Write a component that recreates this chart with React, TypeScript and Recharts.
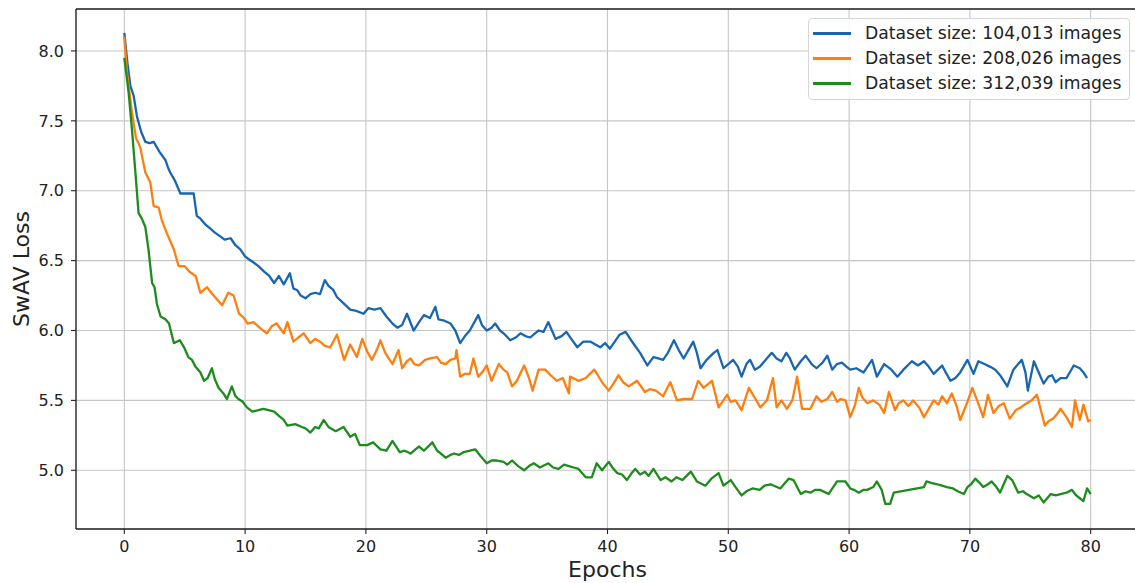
import React from 'react';
import { LineChart, Line, XAxis, YAxis, CartesianGrid, Legend, ReferenceLine } from 'recharts';

const xTicks = [0, 10, 20, 30, 40, 50, 60, 70, 80];
const yTicks = [5.0, 5.5, 6.0, 6.5, 7.0, 7.5, 8.0];
const X_DOMAIN: [number, number] = [-4, 84];
const Y_DOMAIN: [number, number] = [4.58, 8.3];

const seriesNames = [
  'Dataset size: 104,013 images',
  'Dataset size: 208,026 images',
  'Dataset size: 312,039 images',
];
const seriesColors = ['#1866b0', '#ff7f0e', '#1d8c1d'];

const epochs104k = [0, 0.25, 0.5, 0.77, 1.05, 1.4, 1.74, 2.1, 2.43, 2.9, 3.4, 3.6, 3.8, 4.2, 4.64, 5.0, 5.74, 6.0, 6.3, 6.7, 7.1, 7.5, 8.0, 8.3, 8.8, 9.2, 9.6, 10.0, 10.3, 10.65, 11.1, 11.6, 12.0, 12.4, 12.8, 13.2, 13.7, 14.0, 14.3, 14.6, 15.0, 15.4, 15.8, 16.2, 16.6, 16.9, 17.3, 17.6, 18.2, 18.7, 19.2, 19.8, 20.2, 20.7, 21.2, 21.7, 22.2, 22.6, 23.0, 23.4, 23.95, 24.4, 24.8, 25.3, 25.75, 26.0, 26.5, 27.0, 27.4, 27.8, 28.2, 28.6, 29.3, 29.6, 30.0, 30.4, 30.7, 31.1, 31.4, 31.95, 32.4, 32.8, 33.2, 33.6, 34.0, 34.3, 34.7, 35.1, 35.4, 35.7, 36.2, 36.6, 37.0, 37.5, 38.0, 38.6, 39.0, 39.4, 39.8, 40.2, 40.6, 41.0, 41.5, 41.8, 42.2, 42.7, 43.3, 43.8, 44.2, 44.6, 45.0, 45.5, 45.9, 46.3, 46.7, 47.1, 47.4, 47.7, 48.2, 48.8, 49.1, 49.6, 50.0, 50.4, 50.8, 51.1, 51.5, 51.8, 52.2, 52.6, 53.1, 53.6, 54.0, 54.4, 54.8, 55.1, 55.5, 56.0, 56.4, 56.9, 57.3, 57.8, 58.2, 58.6, 59.0, 59.4, 59.8, 60.1, 60.6, 61.2, 61.9, 62.3, 62.9, 63.5, 64.0, 64.5, 65.2, 65.7, 66.2, 66.6, 67.0, 67.7, 68.0, 68.4, 68.8, 69.2, 69.8, 70.3, 70.7, 71.2, 71.7, 72.1, 72.5, 73.1, 73.6, 74.0, 74.3, 74.6, 74.8, 75.3, 75.7, 76.1, 76.5, 76.8, 77.1, 77.5, 78.0, 78.6, 79.1, 79.4, 79.7];
const loss104k = [8.13, 7.92, 7.75, 7.68, 7.53, 7.42, 7.35, 7.34, 7.35, 7.28, 7.22, 7.17, 7.13, 7.07, 6.98, 6.98, 6.98, 6.82, 6.8, 6.76, 6.73, 6.7, 6.67, 6.65, 6.66, 6.61, 6.58, 6.53, 6.51, 6.49, 6.46, 6.42, 6.39, 6.34, 6.39, 6.33, 6.41, 6.3, 6.29, 6.25, 6.23, 6.26, 6.27, 6.26, 6.36, 6.32, 6.29, 6.24, 6.19, 6.15, 6.14, 6.12, 6.16, 6.15, 6.16, 6.1, 6.05, 6.02, 6.04, 6.12, 6.0, 6.06, 6.11, 6.09, 6.17, 6.08, 6.07, 6.05, 6.0, 5.91, 5.96, 6.0, 6.11, 6.04, 6.0, 6.02, 6.05, 6.0, 5.98, 5.93, 5.95, 5.98, 5.96, 5.95, 5.98, 6.0, 5.99, 6.06, 6.0, 5.94, 5.96, 5.99, 5.94, 5.88, 5.92, 5.92, 5.9, 5.88, 5.91, 5.87, 5.92, 5.97, 5.99, 5.95, 5.9, 5.84, 5.75, 5.81, 5.8, 5.79, 5.84, 5.93, 5.86, 5.8, 5.86, 5.92, 5.84, 5.73, 5.79, 5.84, 5.86, 5.73, 5.76, 5.79, 5.74, 5.67, 5.76, 5.79, 5.72, 5.74, 5.79, 5.84, 5.8, 5.78, 5.84, 5.8, 5.72, 5.78, 5.82, 5.76, 5.73, 5.77, 5.82, 5.72, 5.76, 5.77, 5.74, 5.72, 5.73, 5.7, 5.79, 5.67, 5.76, 5.72, 5.67, 5.72, 5.78, 5.75, 5.78, 5.74, 5.69, 5.75, 5.7, 5.64, 5.66, 5.7, 5.79, 5.69, 5.78, 5.76, 5.74, 5.72, 5.68, 5.6, 5.72, 5.76, 5.79, 5.7, 5.57, 5.78, 5.7, 5.62, 5.67, 5.68, 5.63, 5.66, 5.66, 5.75, 5.73, 5.7, 5.66];

const epochs208k = [0, 0.22, 0.63, 0.96, 1.32, 1.74, 2.15, 2.43, 2.84, 3.1, 3.5, 3.8, 4.1, 4.5, 5.0, 5.4, 5.9, 6.3, 6.85, 7.2, 7.5, 8.1, 8.6, 9.05, 9.5, 9.9, 10.2, 10.7, 11.2, 11.8, 12.2, 12.6, 13.2, 13.5, 14.0, 14.4, 14.85, 15.4, 15.8, 16.2, 16.6, 17.05, 17.6, 18.2, 18.7, 19.25, 19.7, 20.1, 20.5, 20.9, 21.2, 21.6, 22.2, 22.7, 23.0, 23.4, 23.7, 24.0, 24.4, 24.9, 25.3, 25.9, 26.2, 26.6, 27.0, 27.4, 27.5, 27.8, 28.2, 28.6, 28.9, 29.3, 29.7, 30.0, 30.4, 31.0, 31.4, 31.7, 32.1, 32.5, 33.1, 33.5, 33.8, 34.3, 34.85, 35.3, 35.8, 36.3, 36.8, 36.9, 37.6, 38.2, 38.9, 39.2, 39.55, 40.1, 40.5, 40.9, 41.3, 41.75, 42.45, 43.1, 43.5, 44.0, 44.6, 45.2, 45.75, 46.3, 47.0, 47.5, 47.95, 48.65, 49.2, 49.9, 50.2, 50.6, 51.1, 51.7, 52.25, 52.65, 53.2, 53.7, 54.0, 54.4, 54.85, 55.3, 55.7, 56.1, 56.8, 57.3, 57.7, 58.2, 58.6, 59.0, 59.3, 59.7, 60.1, 60.5, 60.8, 61.1, 61.5, 62.0, 62.5, 62.9, 63.3, 63.8, 64.1, 64.5, 64.9, 65.3, 65.8, 66.2, 66.6, 67.0, 67.4, 67.7, 68.1, 68.5, 68.9, 69.2, 69.8, 70.2, 70.6, 71.1, 71.5, 71.95, 72.4, 72.8, 73.3, 73.8, 74.2, 74.7, 75.1, 75.55, 76.2, 76.5, 76.9, 77.2, 77.5, 78.0, 78.45, 78.7, 79.1, 79.4, 79.8, 80.0];
const loss208k = [8.1, 7.85, 7.56, 7.38, 7.31, 7.13, 7.06, 6.89, 6.88, 6.79, 6.7, 6.64, 6.58, 6.46, 6.46, 6.42, 6.39, 6.27, 6.31, 6.27, 6.24, 6.18, 6.27, 6.25, 6.12, 6.09, 6.05, 6.06, 6.02, 5.98, 6.03, 6.05, 5.98, 6.06, 5.92, 5.95, 5.98, 5.91, 5.94, 5.92, 5.89, 5.88, 5.97, 5.79, 5.9, 5.81, 5.94, 5.85, 5.79, 5.86, 5.93, 5.84, 5.76, 5.86, 5.73, 5.78, 5.8, 5.76, 5.75, 5.79, 5.8, 5.81, 5.77, 5.76, 5.79, 5.8, 5.86, 5.67, 5.69, 5.69, 5.8, 5.67, 5.71, 5.75, 5.64, 5.76, 5.72, 5.7, 5.6, 5.64, 5.75, 5.66, 5.57, 5.72, 5.72, 5.68, 5.64, 5.66, 5.55, 5.67, 5.64, 5.66, 5.72, 5.68, 5.63, 5.57, 5.62, 5.68, 5.63, 5.6, 5.64, 5.56, 5.58, 5.57, 5.53, 5.63, 5.5, 5.51, 5.51, 5.64, 5.59, 5.64, 5.45, 5.54, 5.49, 5.5, 5.43, 5.59, 5.51, 5.45, 5.5, 5.66, 5.45, 5.5, 5.44, 5.5, 5.67, 5.44, 5.44, 5.53, 5.49, 5.51, 5.56, 5.49, 5.51, 5.5, 5.38, 5.47, 5.59, 5.52, 5.48, 5.5, 5.47, 5.41, 5.56, 5.43, 5.48, 5.5, 5.46, 5.5, 5.45, 5.38, 5.44, 5.5, 5.47, 5.53, 5.48, 5.55, 5.46, 5.36, 5.49, 5.59, 5.5, 5.38, 5.54, 5.41, 5.46, 5.48, 5.37, 5.43, 5.45, 5.48, 5.5, 5.54, 5.32, 5.35, 5.37, 5.4, 5.44, 5.38, 5.31, 5.5, 5.36, 5.47, 5.35, 5.36];

const epochs312k = [0, 0.36, 0.63, 0.9, 1.18, 1.45, 1.74, 2.0, 2.3, 2.5, 2.7, 3.0, 3.4, 3.7, 4.1, 4.6, 5.0, 5.3, 5.6, 5.9, 6.3, 6.6, 6.9, 7.25, 7.5, 7.8, 8.2, 8.5, 8.9, 9.2, 9.45, 9.8, 10.15, 10.6, 11.1, 11.5, 11.95, 12.4, 12.8, 13.2, 13.5, 14.15, 14.7, 15.0, 15.4, 15.8, 16.1, 16.5, 16.9, 17.5, 18.15, 18.7, 19.1, 19.5, 20.1, 20.6, 21.2, 21.7, 22.2, 22.8, 23.2, 23.7, 24.1, 24.4, 24.8, 25.5, 25.9, 26.2, 26.6, 27.0, 27.3, 27.7, 28.1, 28.6, 29.05, 29.5, 30.0, 30.4, 30.85, 31.4, 31.7, 32.1, 32.6, 33.1, 33.5, 33.9, 34.4, 35.1, 35.5, 35.95, 36.4, 36.8, 37.2, 37.6, 38.2, 38.7, 39.1, 39.55, 40.1, 40.4, 40.8, 41.2, 41.6, 42.0, 42.3, 42.7, 43.1, 43.4, 43.8, 44.4, 44.8, 45.3, 45.7, 46.2, 46.9, 47.4, 48.1, 48.6, 49.2, 49.6, 50.2, 50.6, 51.1, 51.5, 52.0, 52.6, 53.0, 53.5, 54.3, 55.0, 55.4, 56.0, 56.4, 56.8, 57.2, 57.6, 58.3, 59.0, 59.7, 60.1, 60.4, 60.8, 61.2, 61.5, 62.0, 62.3, 62.7, 63.0, 63.4, 63.7, 66.2, 66.4, 66.8, 67.3, 67.7, 68.1, 68.6, 69.0, 69.5, 69.8, 70.1, 70.45, 70.8, 71.1, 71.5, 71.8, 72.2, 72.5, 72.8, 73.1, 73.5, 74.0, 74.4, 74.7, 75.3, 75.7, 76.1, 76.7, 77.1, 77.5, 78.0, 78.45, 78.8, 79.1, 79.4, 79.7, 80.0];
const loss312k = [7.95, 7.7, 7.44, 7.15, 6.84, 6.8, 6.74, 6.58, 6.34, 6.31, 6.19, 6.1, 6.08, 6.05, 5.91, 5.93, 5.87, 5.81, 5.79, 5.74, 5.7, 5.64, 5.66, 5.73, 5.65, 5.59, 5.55, 5.51, 5.6, 5.53, 5.51, 5.49, 5.45, 5.42, 5.43, 5.44, 5.43, 5.42, 5.39, 5.36, 5.32, 5.33, 5.31, 5.3, 5.27, 5.31, 5.3, 5.36, 5.31, 5.28, 5.31, 5.24, 5.26, 5.18, 5.18, 5.2, 5.15, 5.14, 5.21, 5.13, 5.14, 5.12, 5.15, 5.17, 5.14, 5.2, 5.14, 5.12, 5.09, 5.11, 5.12, 5.11, 5.13, 5.14, 5.15, 5.1, 5.05, 5.07, 5.07, 5.06, 5.04, 5.07, 5.03, 5.0, 5.03, 5.05, 5.02, 5.05, 5.02, 5.01, 5.04, 5.03, 5.02, 5.01, 4.95, 4.95, 5.05, 5.0, 5.06, 5.02, 4.98, 4.97, 4.93, 4.98, 5.01, 4.97, 4.99, 4.96, 5.01, 4.93, 4.95, 4.92, 4.95, 4.93, 4.99, 4.92, 4.89, 4.94, 4.98, 4.89, 4.93, 4.88, 4.82, 4.85, 4.87, 4.86, 4.89, 4.9, 4.87, 4.94, 4.93, 4.83, 4.85, 4.84, 4.86, 4.86, 4.83, 4.92, 4.92, 4.87, 4.86, 4.84, 4.86, 4.86, 4.88, 4.92, 4.86, 4.76, 4.76, 4.84, 4.88, 4.92, 4.91, 4.9, 4.89, 4.88, 4.87, 4.85, 4.83, 4.88, 4.9, 4.94, 4.91, 4.88, 4.9, 4.92, 4.88, 4.84, 4.9, 4.96, 4.93, 4.84, 4.85, 4.83, 4.8, 4.82, 4.77, 4.83, 4.82, 4.83, 4.84, 4.86, 4.82, 4.8, 4.78, 4.87, 4.83];

const toPoints = (ep: number[], loss: number[]) => ep.map((e, i) => ({ epoch: e, loss: loss[i] }));
const seriesData = [toPoints(epochs104k, loss104k), toPoints(epochs208k, loss208k), toPoints(epochs312k, loss312k)];

const FONT = '"DejaVu Sans", Verdana, sans-serif';
const INK = '#222';

const LegendBox = () => (
  <div
    style={{
      boxSizing: 'border-box',
      width: 322,
      height: 82,
      padding: '2px 0 3px 0',
      border: '1px solid #d6d6d6',
      borderRadius: 4,
      background: 'rgba(255,255,255,0.85)',
      fontFamily: FONT,
      fontSize: 17.2,
      color: INK,
    }}
  >
    {seriesNames.map((n, i) => (
      <div key={n} style={{ display: 'flex', alignItems: 'center', height: 25, lineHeight: '25px', whiteSpace: 'nowrap' }}>
        <span style={{ display: 'inline-block', width: 38, height: 2.3, background: seriesColors[i], marginLeft: 4, marginRight: 14 }} />
        <span>{n}</span>
      </div>
    ))}
  </div>
);

export default function App() {
  return (
    <div style={{ position: 'absolute', left: 0, top: 0, width: 1135, height: 583, overflow: 'hidden', background: '#fff' }}>
      <LineChart width={1142} height={583} margin={{ top: 9, right: 3, bottom: 0, left: 0 }}>
        <CartesianGrid stroke="#c6c6c6" strokeWidth={1.1} />
        <XAxis
          dataKey="epoch"
          type="number"
          domain={X_DOMAIN}
          ticks={xTicks}
          allowDataOverflow
          height={54}
          tickSize={5}
          tickMargin={7}
          axisLine={{ stroke: INK, strokeWidth: 1.3 }}
          tickLine={{ stroke: INK, strokeWidth: 1.1 }}
          tick={{ fill: INK, fontSize: 16, fontFamily: FONT }}
          label={{ value: 'Epochs', position: 'insideBottom', offset: 6, fill: INK, fontSize: 22, fontFamily: FONT }}
        />
        <YAxis
          type="number"
          domain={Y_DOMAIN}
          ticks={yTicks}
          allowDataOverflow
          width={76}
          tickSize={5}
          tickMargin={7}
          tickFormatter={(v: number) => v.toFixed(1)}
          axisLine={{ stroke: INK, strokeWidth: 1.3 }}
          tickLine={{ stroke: INK, strokeWidth: 1.1 }}
          tick={{ fill: INK, fontSize: 16, fontFamily: FONT }}
          label={{ value: 'SwAV Loss', angle: -90, position: 'insideLeft', offset: 21, fill: INK, fontSize: 22, fontFamily: FONT, style: { textAnchor: 'middle' } }}
        />
        <ReferenceLine y={Y_DOMAIN[1]} stroke={INK} strokeWidth={1.3} />
        {seriesData.map((d, i) => (
          <Line
            key={seriesNames[i]}
            data={d}
            dataKey="loss"
            name={seriesNames[i]}
            type="linear"
            stroke={seriesColors[i]}
            strokeWidth={2.3}
            strokeLinejoin="round"
            dot={false}
            activeDot={false}
            isAnimationActive={false}
          />
        ))}
        <Legend
          layout="vertical"
          align="center"
          verticalAlign="middle"
          width={322}
          height={82}
          wrapperStyle={{ left: 808, top: 18, width: 322, height: 82 }}
          content={() => <LegendBox />}
        />
      </LineChart>
    </div>
  );
}
